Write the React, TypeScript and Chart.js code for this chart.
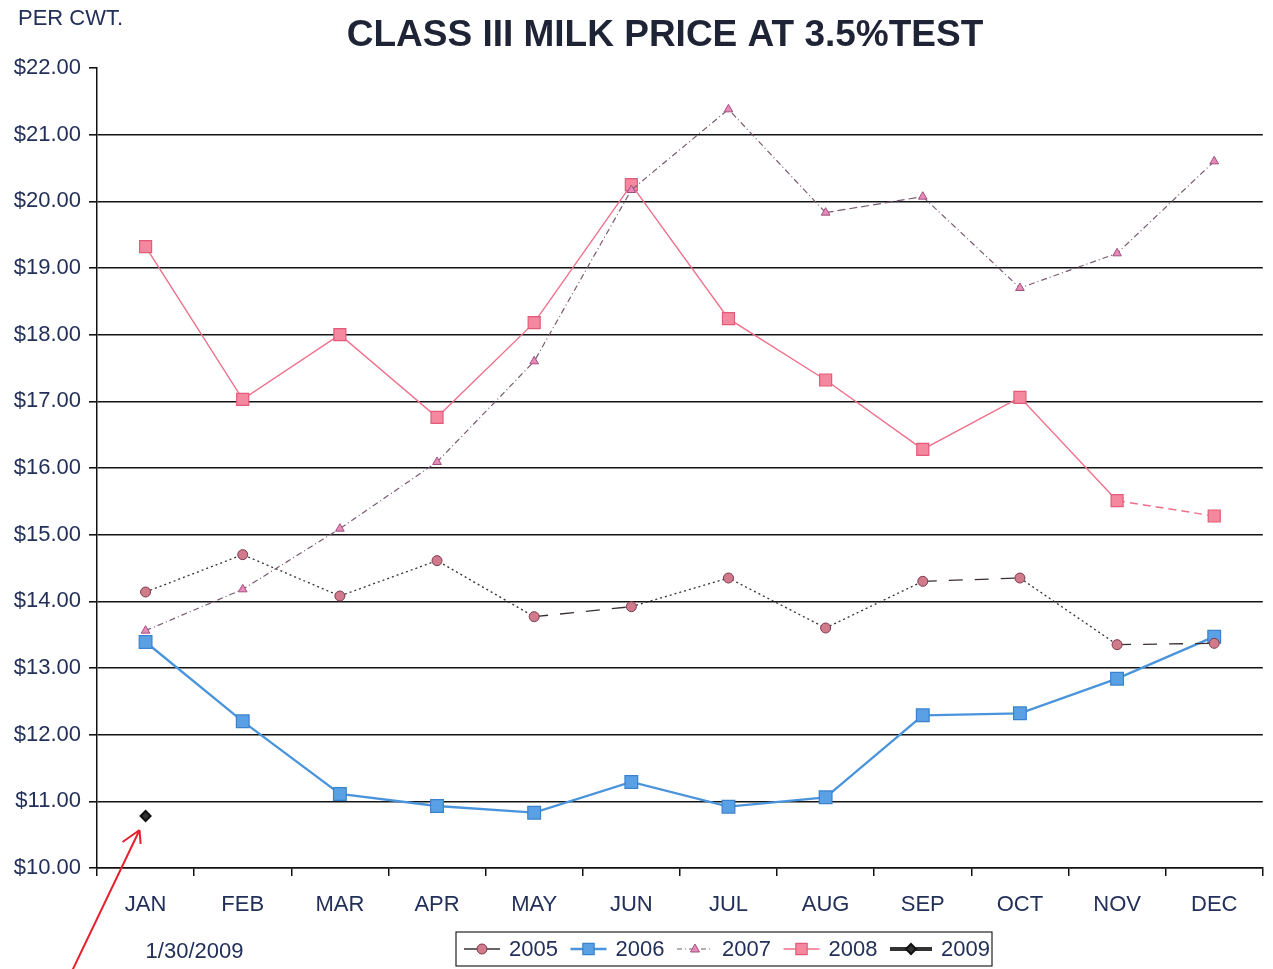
import React, { useEffect, useRef } from 'react';
import { Chart, registerables } from 'chart.js';

Chart.register(...registerables);

const months = ['JAN', 'FEB', 'MAR', 'APR', 'MAY', 'JUN', 'JUL', 'AUG', 'SEP', 'OCT', 'NOV', 'DEC'];
const yMin = 10;
const yMax = 22;
const yStep = 1;
const seriesNames = ['2005', '2006', '2007', '2008', '2009'];
const s2005 = [14.14, 14.70, 14.08, 14.61, 13.77, 13.92, 14.35, 13.60, 14.30, 14.35, 13.35, 13.37];
const s2006 = [13.39, 12.20, 11.11, 10.93, 10.83, 11.29, 10.92, 11.06, 12.29, 12.32, 12.84, 13.47];
const s2007 = [13.56, 14.18, 15.09, 16.09, 17.60, 20.17, 21.38, 19.83, 20.07, 18.70, 19.22, 20.60];
const s2008 = [19.32, 17.03, 18.00, 16.76, 18.18, 20.25, 18.24, 17.32, 16.28, 17.06, 15.51, 15.28];
const s2009 = [10.78, null, null, null, null, null, null, null, null, null, null, null];
const titleText = 'CLASS III MILK PRICE AT 3.5%TEST';
const unitText = 'PER CWT.';
const dateText = '1/30/2009';

// segments that appear long-dashed in the scanned original (style only)
const dash2005Segs = [4, 8, 10];
const dash2007Segs = [7];
const dash2008Segs = [10];

const FONT = "'Liberation Sans', Arial, sans-serif";
const TEXT = '#22305a';

function drawMarker(ctx: CanvasRenderingContext2D, style: string, x: number, y: number, r: number, fill: string, stroke: string, bw: number) {
  ctx.save();
  ctx.fillStyle = fill;
  ctx.strokeStyle = stroke;
  ctx.lineWidth = bw;
  ctx.setLineDash([]);
  ctx.beginPath();
  if (style === 'circle') {
    ctx.arc(x, y, r, 0, Math.PI * 2);
  } else if (style === 'rect') {
    const h = r * Math.SQRT1_2;
    ctx.rect(x - h, y - h, h * 2, h * 2);
  } else if (style === 'triangle') {
    ctx.moveTo(x, y - r);
    ctx.lineTo(x + r * 0.9, y + r * 0.6);
    ctx.lineTo(x - r * 0.9, y + r * 0.6);
    ctx.closePath();
  } else if (style === 'rectRot') {
    ctx.moveTo(x, y - r);
    ctx.lineTo(x + r, y);
    ctx.lineTo(x, y + r);
    ctx.lineTo(x - r, y);
    ctx.closePath();
  }
  ctx.fill();
  ctx.stroke();
  ctx.restore();
}

const decorPlugin = {
  id: 'decor',
  afterDraw(chart: any) {
    const ctx: CanvasRenderingContext2D = chart.ctx;
    const xs = chart.scales.x;
    const ys = chart.scales.y;
    ctx.save();
    // title
    ctx.fillStyle = '#1e2436';
    ctx.font = `bold 37px ${FONT}`;
    ctx.textAlign = 'center';
    ctx.textBaseline = 'alphabetic';
    ctx.fillText(titleText, 665, 46);
    // unit
    ctx.fillStyle = TEXT;
    ctx.font = `22px ${FONT}`;
    ctx.textAlign = 'left';
    ctx.fillText(unitText, 18, 25);
    // date under JAN
    const janX = xs.getPixelForValue(0);
    ctx.fillText(dateText, janX, 958);
    // red arrow pointing to 2009 point
    const tipX = janX - 6;
    const tipY = ys.getPixelForValue(s2009[0] as number) + 14;
    ctx.strokeStyle = '#e8202e';
    ctx.lineWidth = 2;
    ctx.beginPath();
    ctx.moveTo(tipX - 68, 972);
    ctx.lineTo(tipX, tipY);
    ctx.moveTo(tipX, tipY);
    ctx.lineTo(tipX - 17, tipY + 12);
    ctx.moveTo(tipX, tipY);
    ctx.lineTo(tipX + 1, tipY + 14);
    ctx.stroke();

    // legend
    const bx = 456, by = 932, bw = 536, bh = 34;
    ctx.fillStyle = '#fff';
    ctx.fillRect(bx, by, bw, bh);
    ctx.strokeStyle = '#222';
    ctx.lineWidth = 1.2;
    ctx.strokeRect(bx, by, bw, bh);
    const cy = by + bh / 2;
    chart.data.datasets.forEach((ds: any, i: number) => {
      const sx = 464 + i * 106.5;
      const lineLen = i === 4 ? 42 : 36;
      ctx.save();
      ctx.strokeStyle = ds.legendLine || ds.borderColor;
      ctx.lineWidth = ds.legendWidth || ds.borderWidth;
      ctx.setLineDash(ds.legendDash || []);
      ctx.beginPath();
      ctx.moveTo(sx, cy);
      ctx.lineTo(sx + lineLen, cy);
      ctx.stroke();
      ctx.restore();
      drawMarker(ctx, ds.pointStyle, sx + lineLen / 2, cy, ds.legendRadius || ds.pointRadius, ds.pointBackgroundColor, ds.pointBorderColor, ds.pointBorderWidth);
      ctx.fillStyle = TEXT;
      ctx.font = `22px ${FONT}`;
      ctx.textAlign = 'left';
      ctx.textBaseline = 'middle';
      ctx.fillText(ds.label, sx + lineLen + 9, cy + 1);
    });
    ctx.restore();
  },
};

export default function App() {
  const ref = useRef<HTMLCanvasElement | null>(null);
  useEffect(() => {
    if (!ref.current) return;
    const chart = new Chart(ref.current, {
      type: 'line',
      data: {
        labels: months,
        datasets: [
          {
            label: seriesNames[0],
            data: s2005,
            borderColor: '#3a3034',
            borderWidth: 1.3,
            borderDash: [2, 3],
            segment: { borderDash: (c: any) => (dash2005Segs.includes(c.p0DataIndex) ? [14, 12] : undefined) },
            legendLine: '#3a3034',
            pointStyle: 'circle',
            pointRadius: 5,
            pointBackgroundColor: '#d07a8c',
            pointBorderColor: '#7a3a4c',
            pointBorderWidth: 1,
          } as any,
          {
            label: seriesNames[1],
            data: s2006,
            borderColor: '#4a94dc',
            borderWidth: 2.3,
            pointStyle: 'rect',
            pointRadius: 9,
            legendRadius: 8,
            pointBackgroundColor: '#5aa0e4',
            pointBorderColor: '#3a82cc',
            pointBorderWidth: 1.2,
          } as any,
          {
            label: seriesNames[2],
            data: s2007,
            borderColor: '#7a5a72',
            borderWidth: 1.2,
            borderDash: [6, 3, 1, 3],
            segment: { borderDash: (c: any) => (dash2007Segs.includes(c.p0DataIndex) ? [8, 4] : undefined) },
            legendDash: [5, 3, 1, 3],
            pointStyle: 'triangle',
            pointRadius: 5,
            pointBackgroundColor: '#e88ab8',
            pointBorderColor: '#a05080',
            pointBorderWidth: 1,
          } as any,
          {
            label: seriesNames[3],
            data: s2008,
            borderColor: '#f0708c',
            borderWidth: 1.4,
            segment: { borderDash: (c: any) => (dash2008Segs.includes(c.p0DataIndex) ? [8, 5] : undefined) },
            pointStyle: 'rect',
            pointRadius: 8.5,
            legendRadius: 8,
            pointBackgroundColor: '#f4889e',
            pointBorderColor: '#e45a7a',
            pointBorderWidth: 1.2,
          } as any,
          {
            label: seriesNames[4],
            data: s2009,
            borderColor: '#222',
            borderWidth: 3,
            legendWidth: 4,
            legendLine: '#333',
            pointStyle: 'rectRot',
            pointRadius: 5,
            pointBackgroundColor: '#333',
            pointBorderColor: '#111',
            pointBorderWidth: 2,
          } as any,
        ],
      },
      options: {
        responsive: false,
        animation: false,
        layout: { padding: { top: 68, left: 0, right: 8, bottom: 0 } },
        plugins: {
          legend: { display: false },
          title: { display: false },
          tooltip: { enabled: false },
        },
        scales: {
          x: {
            type: 'category',
            offset: true,
            afterFit: (s: any) => { s.height = 101; },
            grid: {
              offset: true,
              drawOnChartArea: false,
              drawTicks: true,
              tickLength: 8,
              color: '#111',
              lineWidth: 1.5,
            },
            border: { display: true, color: '#111', width: 1.5 },
            ticks: {
              color: TEXT,
              font: { family: FONT, size: 22 },
              padding: 16,
              maxRotation: 0,
              autoSkip: false,
            },
          },
          y: {
            min: yMin,
            max: yMax,
            afterFit: (s: any) => { s.width = 97; },
            grid: {
              color: (c: any) => (c.tick && c.tick.value === yMax ? 'rgba(0,0,0,0)' : '#151515'),
              lineWidth: 1.6,
              tickLength: 8,
              tickColor: '#151515',
              drawTicks: true,
            },
            border: { display: true, color: '#111', width: 1.5 },
            ticks: {
              stepSize: yStep,
              color: TEXT,
              font: { family: FONT, size: 22 },
              padding: 8,
              callback: (v: any) => '$' + Number(v).toFixed(2),
            },
          },
        },
      } as any,
      plugins: [decorPlugin],
    });
    return () => chart.destroy();
  }, []);
  return (
    <div style={{ position: 'absolute', left: 0, top: 0, width: 1273, height: 969, background: '#fff' }}>
      <canvas ref={ref} width={1273} height={969} style={{ display: 'block' }} />
    </div>
  );
}
